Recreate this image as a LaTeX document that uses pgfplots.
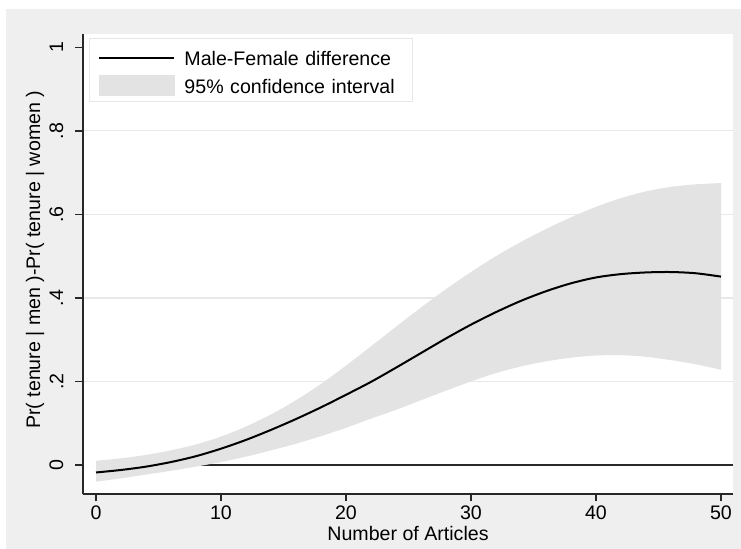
\documentclass[border=0pt]{standalone}
\usepackage{fontspec}
\setmainfont{Liberation Sans}
\usepackage{pgfplots}
\pgfplotsset{compat=1.18}
\usepgfplotslibrary{fillbetween}
\usepackage{pgfplotstable}

\definecolor{outerbg}{RGB}{239,239,239}
\definecolor{cifill}{RGB}{227,227,227}
\definecolor{gridc}{RGB}{232,232,232}
\definecolor{axisc}{RGB}{40,40,40}
\definecolor{legbord}{RGB}{230,230,230}

% predicted difference with 95% bounds
\pgfplotstableread{
x   lo      mid     hi
0   -0.040  -0.018  0.010
2   -0.032  -0.012  0.016
4   -0.023  -0.004  0.024
6   -0.014   0.007  0.035
8   -0.004   0.021  0.049
10   0.007   0.039  0.068
12   0.020   0.060  0.092
14   0.035   0.084  0.121
16   0.051   0.110  0.155
18   0.069   0.138  0.194
20   0.089   0.168  0.238
22   0.111   0.199  0.284
24   0.132   0.233  0.331
26   0.155   0.268  0.377
28   0.178   0.303  0.421
30   0.200   0.336  0.462
32   0.220   0.366  0.500
34   0.236   0.393  0.534
36   0.248   0.416  0.565
38   0.257   0.435  0.593
40   0.262   0.449  0.618
42   0.263   0.457  0.639
44   0.259   0.461  0.655
46   0.251   0.462  0.666
48   0.241   0.459  0.672
50   0.228   0.451  0.675
}\est

\newcommand{\chartfont}{\fontsize{9.8}{11}\selectfont}

\begin{document}
\begin{tikzpicture}
\path (0,0) rectangle (370.5pt,272pt);
\begin{axis}[
  at={(41.5pt,27.5pt)}, anchor=south west,
  scale only axis, width=325pt, height=230pt,
  xmin=-1.04, xmax=50.96, ymin=-0.0695, ymax=1.032,
  clip=false,
  axis x line*=bottom, axis y line*=left,
  axis line style={-, draw=axisc, line width=0.65pt},
  axis background/.style={},
  tick align=outside,
  major tick length=3.75pt,
  tick style={axisc, line width=0.65pt},
  xtick={0,10,20,30,40,50}, xticklabels={0,10,20,30,40,50},
  ytick={0,0.2,0.4,0.6,0.8,1}, yticklabels={0,.2,.4,.6,.8,1},
  extra y ticks={0.2,0.4,0.6,0.8}, extra y tick labels={},
  extra y tick style={grid=major, major grid style={gridc, line width=0.6pt}},
  tick label style={font=\chartfont},
  xticklabel style={anchor=north, inner sep=0pt, yshift=-1.75pt},
  yticklabel style={xshift=-9.5pt, rotate=90, anchor=center, inner sep=0pt},
  xlabel={Number of Articles},
  ylabel={Pr( tenure | men )-Pr( tenure | women )},
  xlabel style={font=\chartfont, at={(axis description cs:0.5,0)}, anchor=north, inner sep=0pt, yshift=-15.75pt},
  ylabel style={font=\chartfont, at={(axis description cs:-0.0738,0.509)}, anchor=center, inner sep=0pt},
  legend style={at={(axis description cs:0.0092,0.991)}, anchor=north west,
    draw=legbord, line width=0.5pt, fill=white, font=\chartfont,
    inner xsep=4.5pt, inner ysep=1.75pt, row sep=0pt, column sep=4.5pt,
    cells={anchor=base west},
    nodes={inner sep=0pt, text height=11.5pt, text depth=2.5pt, text width=109.5pt}},
]
% page and plot-region backgrounds
\begin{pgfonlayer}{axis background}
  \fill[white] ([shift={(-41.5pt,-27.5pt)}]rel axis cs:0,0) rectangle ([shift={(4pt,17pt)}]rel axis cs:1,1);
  \fill[outerbg] ([shift={(-38.5pt,-27.5pt)}]rel axis cs:0,0) rectangle ([shift={(4pt,12.5pt)}]rel axis cs:1,1);
  \fill[white] (rel axis cs:0,0) rectangle (rel axis cs:1,1);
\end{pgfonlayer}
% reference line at zero, kept beneath the band
\addplot[forget plot, on layer=axis grid, axisc, line width=0.7pt] coordinates {(0,0) (50.96,0)};
\addplot[forget plot, name path=upper, draw=none, smooth] table[x=x, y=hi] {\est};
\addplot[forget plot, name path=lower, draw=none, smooth] table[x=x, y=lo] {\est};
\addplot[forget plot, fill=cifill, draw=none] fill between[of=upper and lower];
\addplot[forget plot, black, line width=1pt, smooth] table[x=x, y=mid] {\est};

\addlegendimage{legend image code/.code={\draw[black, line width=1pt] (0pt,3.75pt) -- (37.5pt,3.75pt);}}
\addlegendentry{Male-Female difference}
\addlegendimage{legend image code/.code={\fill[cifill] (0pt,-1.25pt) rectangle (37.5pt,8.75pt);}}
\addlegendentry{95\% confidence interval}
\end{axis}
\end{tikzpicture}
\end{document}
